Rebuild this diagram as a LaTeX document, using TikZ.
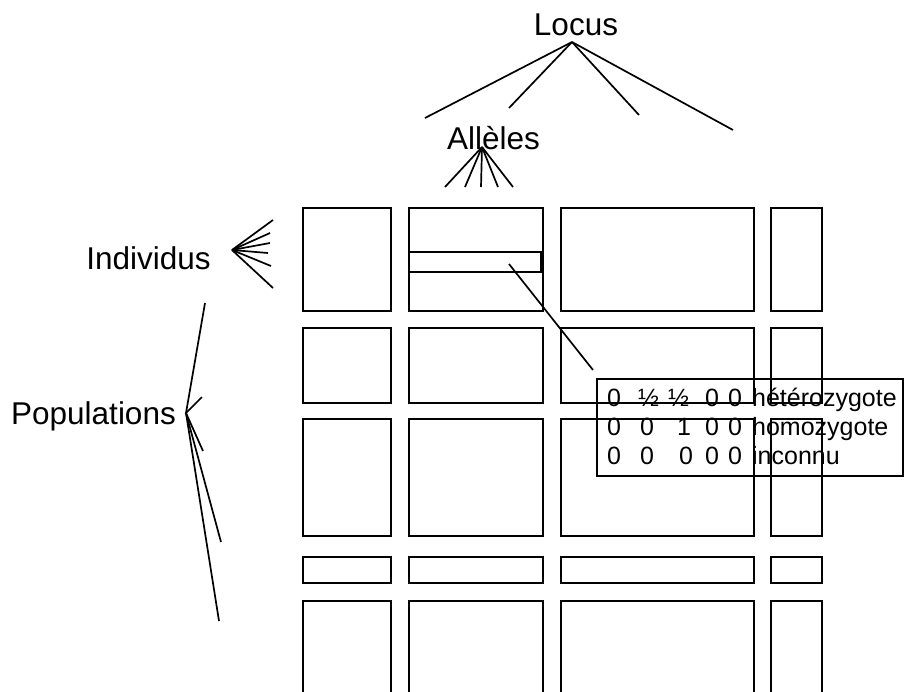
\documentclass[tikz,border=0pt]{standalone}
\usepackage{fontspec}
\setmainfont{Liberation Sans}
\begin{document}
\begin{tikzpicture}[x=1pt,y=-1pt,
  ln/.style={line width=1.7pt},
  cell/.style={draw,line width=1.7pt},
  lbl/.style={inner sep=0pt,anchor=base,font=\fontsize{31.5}{36}\selectfont},
  tline/.style={inner sep=0pt,anchor=base west,font=\fontsize{25}{29}\selectfont}]
\useasboundingbox (0,0) rectangle (904,691);
\clip (0,0) rectangle (904,691);
% grid of rectangles
\foreach \xa/\xb in {303/391,409/543,561/754,771/822}{
  \foreach \ya/\yb in {208/311,328/403,419/536,557/583,601/720}{
    \draw[cell] (\xa,\ya) rectangle (\xb,\yb);
  }
}
% small rectangle in column 2
\draw[cell] (409,252) rectangle (541,272);
\coordinate (sr) at (509,264);
% info box
\draw[cell] (597,379) rectangle (903,476);
\coordinate (ib) at (593,370);
\draw[ln] (sr) -- (ib);
\node[tline] (t1) at (607,406) {\makebox[31pt][l]{0}\makebox[30pt][l]{½}\makebox[37pt][l]{½}\makebox[23pt][l]{0}\makebox[24pt][l]{0}hétérozygote};
\node[tline] (t2) at (607,435) {\makebox[33pt][l]{0}\makebox[37pt][l]{0}\makebox[28pt][l]{1}\makebox[23pt][l]{0}\makebox[24pt][l]{0}homozygote};
\node[tline] (t3) at (607,464) {\makebox[33pt][l]{0}\makebox[39pt][l]{0}\makebox[26pt][l]{0}\makebox[23pt][l]{0}\makebox[24pt][l]{0}inconnu};
% labels
\node[lbl] (locus) at (576,35) {Locus};
\node[lbl] (alleles) at (493.5,149) {Allèles};
\node[lbl] (indiv) at (148.5,269) {Individus};
\node[lbl] (pops) at (93.5,424) {Populations};
% fan origins
\coordinate (lo) at (572,42);
\coordinate (ao) at (482,147);
\coordinate (io) at (232,250);
\coordinate (po) at (186,413);
% Locus fan
\foreach \p in {(425,118),(509,108),(639,115),(733,130)}{\draw[ln] (lo) -- \p;}
% Alleles fan
\foreach \p in {(445,187),(465,187),(481,187),(498,187),(513,187)}{\draw[ln] (ao) -- \p;}
% Individus fan
\foreach \p in {(273,220),(270,233),(270,243),(268,253),(271,266),(273,288)}{\draw[ln] (io) -- \p;}
% Populations fan
\foreach \p in {(205,303),(202,397),(203,451),(221,542),(219,621)}{\draw[ln] (po) -- \p;}
\end{tikzpicture}
\end{document}
